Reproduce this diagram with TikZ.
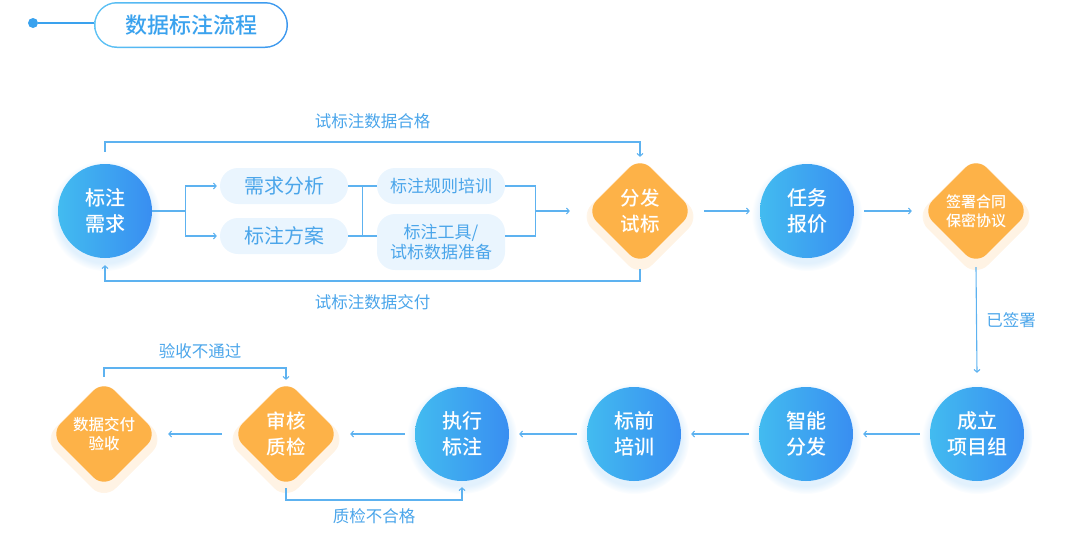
\documentclass[tikz,border=0pt]{standalone}
\usepackage{fontspec}
\setmainfont{Noto Sans CJK SC}
\newfontfamily\cjkmedium{Noto Sans CJK SC}[UprightFont={* Medium}]
\usetikzlibrary{calc,arrows.meta,shapes.geometric,shadows,fadings}
\definecolor{flowline}{HTML}{5DB2F0}
\definecolor{notetext}{HTML}{4AA5EA}
\definecolor{cirleft}{HTML}{42BBF0}
\definecolor{cirright}{HTML}{398EF1}
\definecolor{flowgold}{HTML}{FDB248}
\definecolor{prepfill}{HTML}{EAF5FE}
\definecolor{glowblue}{HTML}{E2F1FD}
\definecolor{glowgold}{HTML}{FFF3E4}
\definecolor{titleleft}{HTML}{5CC2F4}
\definecolor{titleright}{HTML}{3A96EE}
\definecolor{titletext}{HTML}{3AA2EE}
\newcommand{\connectstep}[2]{%
  \draw[link, ->, shorten <=10pt, shorten >=10pt] (#1) -- (#2)}

\begin{document}
\begin{tikzpicture}[x=1pt, y=-1pt,
    task/.style={circle, minimum size=94pt, inner sep=0pt,
      left color=cirleft, right color=cirright, text=white, align=center,
      font=\cjkmedium\fontsize{20}{26}\selectfont,
      circular glow={fill=glowblue, shadow scale=1.18, shadow yshift=-4pt}},
    check/.style={diamond, minimum size=108pt, inner sep=0pt,
      rounded corners=15pt, fill=flowgold, text=white, align=center,
      font=\cjkmedium\fontsize{19.5}{26}\selectfont,
      general shadow={fill=glowgold, shadow scale=1.12, shadow yshift=-5pt,
        path fading=circle with fuzzy edge 15 percent}},
    prep/.style={rectangle, rounded corners=18pt, minimum width=128pt,
      minimum height=36pt, inner sep=0pt, fill=prepfill, text=notetext,
      align=center, font=\fontsize{20}{24}\selectfont},
    note/.style={text=notetext, font=\fontsize{16.5}{20}\selectfont},
    link/.style={draw=flowline, line width=1.1pt},
    >={Straight Barb[length=2.6pt,width=6pt]}]
  \useasboundingbox (0,0) rectangle (1080,555);

  % title
  \node[rectangle, rounded corners=23pt, minimum width=194pt, minimum height=46pt,
    left color=titleleft, right color=titleright] (titlering) at (191,25) {};
  \node[rectangle, rounded corners=21.5pt, minimum width=191pt, minimum height=43pt,
    fill=white, text=titletext, font=\cjkmedium\fontsize{22}{26}\selectfont]
    (title) at (titlering) {数据标注流程};
  \node[circle, fill=titletext, minimum size=10pt, inner sep=0pt] (titledot) at (33,23) {};
  \draw[link, draw=titletext, line width=1.4pt] (titledot) -- (titledot -| titlering.west);

  % top row
  \node[task] (need) at (105,211) {标注\\需求};
  \node[prep] (analysis) at (284,186) {需求分析};
  \node[prep] (plan) at (284,236) {标注方案};
  \node[prep, font=\fontsize{17}{20}\selectfont] (rules) at (441,186) {标注规则培训};
  \node[prep, font=\fontsize{17}{20}\selectfont, minimum height=56pt] (tools) at (441,242)
    {标注工具/\\试标数据准备};
  \node[check] (trial) at (640,211) {分发\\试标};
  \node[task, right of=trial, node distance=167pt] (quote) {任务\\报价};
  \node[check, right of=quote, node distance=169pt, font=\cjkmedium\fontsize{15}{19}\selectfont]
    (contract) {签署合同\\保密协议};

  % bottom row
  \node[task] (team) at (977,434) {成立\\项目组};
  \node[task, left of=team, node distance=171pt] (dispatch) {智能\\分发};
  \node[task, left of=dispatch, node distance=172pt] (pretrain) {标前\\培训};
  \node[task, left of=pretrain, node distance=172pt] (execute) {执行\\标注};
  \node[check, left of=execute, node distance=176pt] (review) {审核\\质检};
  \node[check, left of=review, node distance=182pt, font=\cjkmedium\fontsize{15.5}{18.5}\selectfont]
    (accept) {数据交付\\验收};

  % preparation branch
  \draw[link] (need.east) -- ++(33,0) coordinate (fork);
  \draw[link, ->, shorten >=3pt] (fork) |- (analysis.west);
  \draw[link, ->, shorten >=3pt] (fork) |- (plan.west);
  \draw[link] (analysis.east) -- (rules.west);
  \draw[link] (plan.east) -- (plan.east -| rules.west);
  \draw[link] ($(analysis.east)!0.5!(rules.west)$)
    -- ($(plan.east)!0.5!(plan.east -| rules.west)$);
  \coordinate (gather) at ($(rules.east)!0.5!(tools.east |- plan.east) + (30,0)$);
  \draw[link] (rules.east) -| (gather);
  \draw[link] (tools.east |- plan.east) -| (gather);
  \draw[link, ->, shorten >=16pt] (gather) -- (trial.west);

  % trial loops
  \coordinate (passrail) at (0,142);
  \coordinate (backrail) at (0,281);
  \draw[link, ->] ([yshift=12pt]need.north) -- (need.north |- passrail)
    -- node[note, above=9pt] {试标注数据合格} (trial.north |- passrail) -- (trial.north);
  \draw[link, ->] ([yshift=-4pt]trial.south) -- (trial.south |- backrail)
    -- node[note, below=10pt] {试标注数据交付} (need.south |- backrail)
    -- ([yshift=-7pt]need.south);

  \connectstep{trial}{quote};
  \connectstep{quote}{contract};
  \draw[link, ->] ([yshift=-2pt]contract.south)
    -- node[note, right=6pt] {已签署} ([yshift=14pt]team.north);

  \connectstep{team}{dispatch};
  \connectstep{dispatch}{pretrain};
  \connectstep{pretrain}{execute};
  \connectstep{execute}{review};
  \connectstep{review}{accept};

  % review loops
  \coordinate (failrail) at (0,368);
  \coordinate (rejectrail) at (0,500);
  \draw[link, ->] ([yshift=3pt]accept.north) -- (accept.north |- failrail)
    -- node[note, above=5pt, xshift=5pt] {验收不通过} (review.north |- failrail) -- (review.north);
  \draw[link, ->] (review.south) -- (review.south |- rejectrail)
    -- node[note, below=5pt] {质检不合格} (execute.south |- rejectrail)
    -- ([yshift=-6pt]execute.south);
\end{tikzpicture}
\end{document}
